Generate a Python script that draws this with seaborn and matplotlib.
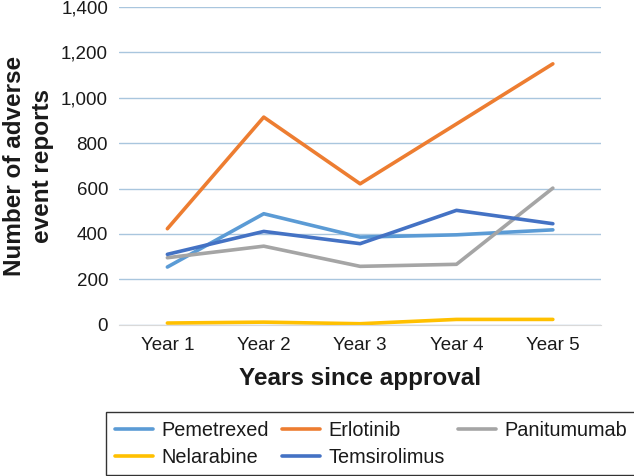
import seaborn as sns
import matplotlib.pyplot as plt
import pandas as pd

# data
years = ["Year 1", "Year 2", "Year 3", "Year 4", "Year 5"]
pemetrexed = [254, 489, 386, 396, 418]
erlotinib = [423, 915, 621, 885, 1150]
panitumumab = [295, 346, 257, 266, 602]
nelarabine = [7, 11, 4, 23, 23]
temsirolimus = [310, 411, 357, 504, 445]

drugs = ["Pemetrexed", "Erlotinib", "Panitumumab", "Nelarabine", "Temsirolimus"]
colors = ["#5B9BD5", "#ED7D31", "#A5A5A5", "#FFC000", "#4472C4"]
series = [pemetrexed, erlotinib, panitumumab, nelarabine, temsirolimus]

df = pd.DataFrame({
    "year": years * len(drugs),
    "reports": [v for s in series for v in s],
    "drug": [d for d in drugs for _ in years],
})

sns.set_style("white")
plt.rcParams["font.family"] = ["Liberation Sans", "DejaVu Sans"]
txt = "#1a1a1a"

fig, ax = plt.subplots(figsize=(6.34, 4.76), dpi=100)
fig.subplots_adjust(left=0.188, right=0.948, top=0.985, bottom=0.318)

sns.lineplot(data=df, x="year", y="reports", hue="drug", hue_order=drugs,
             palette=colors, linewidth=2.6, ax=ax, sort=False)

ax.set_xlim(-0.5, 4.5)
ax.set_ylim(0, 1400)
ax.set_yticks(range(0, 1401, 200))
ax.set_yticklabels([f"{v:,}" for v in range(0, 1401, 200)])
ax.yaxis.grid(True, color="#A9C6DE", linewidth=1)
ax.set_axisbelow(True)
for s in ["top", "right", "left"]:
    ax.spines[s].set_visible(False)
ax.spines["bottom"].set_color("#D9D9D9")
ax.tick_params(axis="both", length=0, labelsize=13.5, labelcolor=txt)
ax.tick_params(axis="y", pad=8)
ax.tick_params(axis="x", pad=9)

ax.set_xlabel("Years since approval", fontsize=17.5, fontweight="bold",
              color=txt, labelpad=9)
ax.set_ylabel("Number of adverse\nevent reports", fontsize=17.5,
              fontweight="bold", color=txt, labelpad=5, linespacing=1.3)

handles, labels = ax.get_legend_handles_labels()
order = [0, 3, 1, 4, 2]
leg = ax.legend([handles[i] for i in order], [labels[i] for i in order],
                loc="upper center", bbox_to_anchor=(0.523, -0.274), ncol=3,
                fontsize=14.3, frameon=True, fancybox=False, edgecolor="black",
                handlelength=1.9, handletextpad=0.45, columnspacing=0.65,
                borderpad=0.45, labelspacing=0.4, borderaxespad=0)
leg.get_frame().set_linewidth(1.0)
for t in leg.get_texts():
    t.set_color(txt)

fig.savefig("out.png", dpi=100)
